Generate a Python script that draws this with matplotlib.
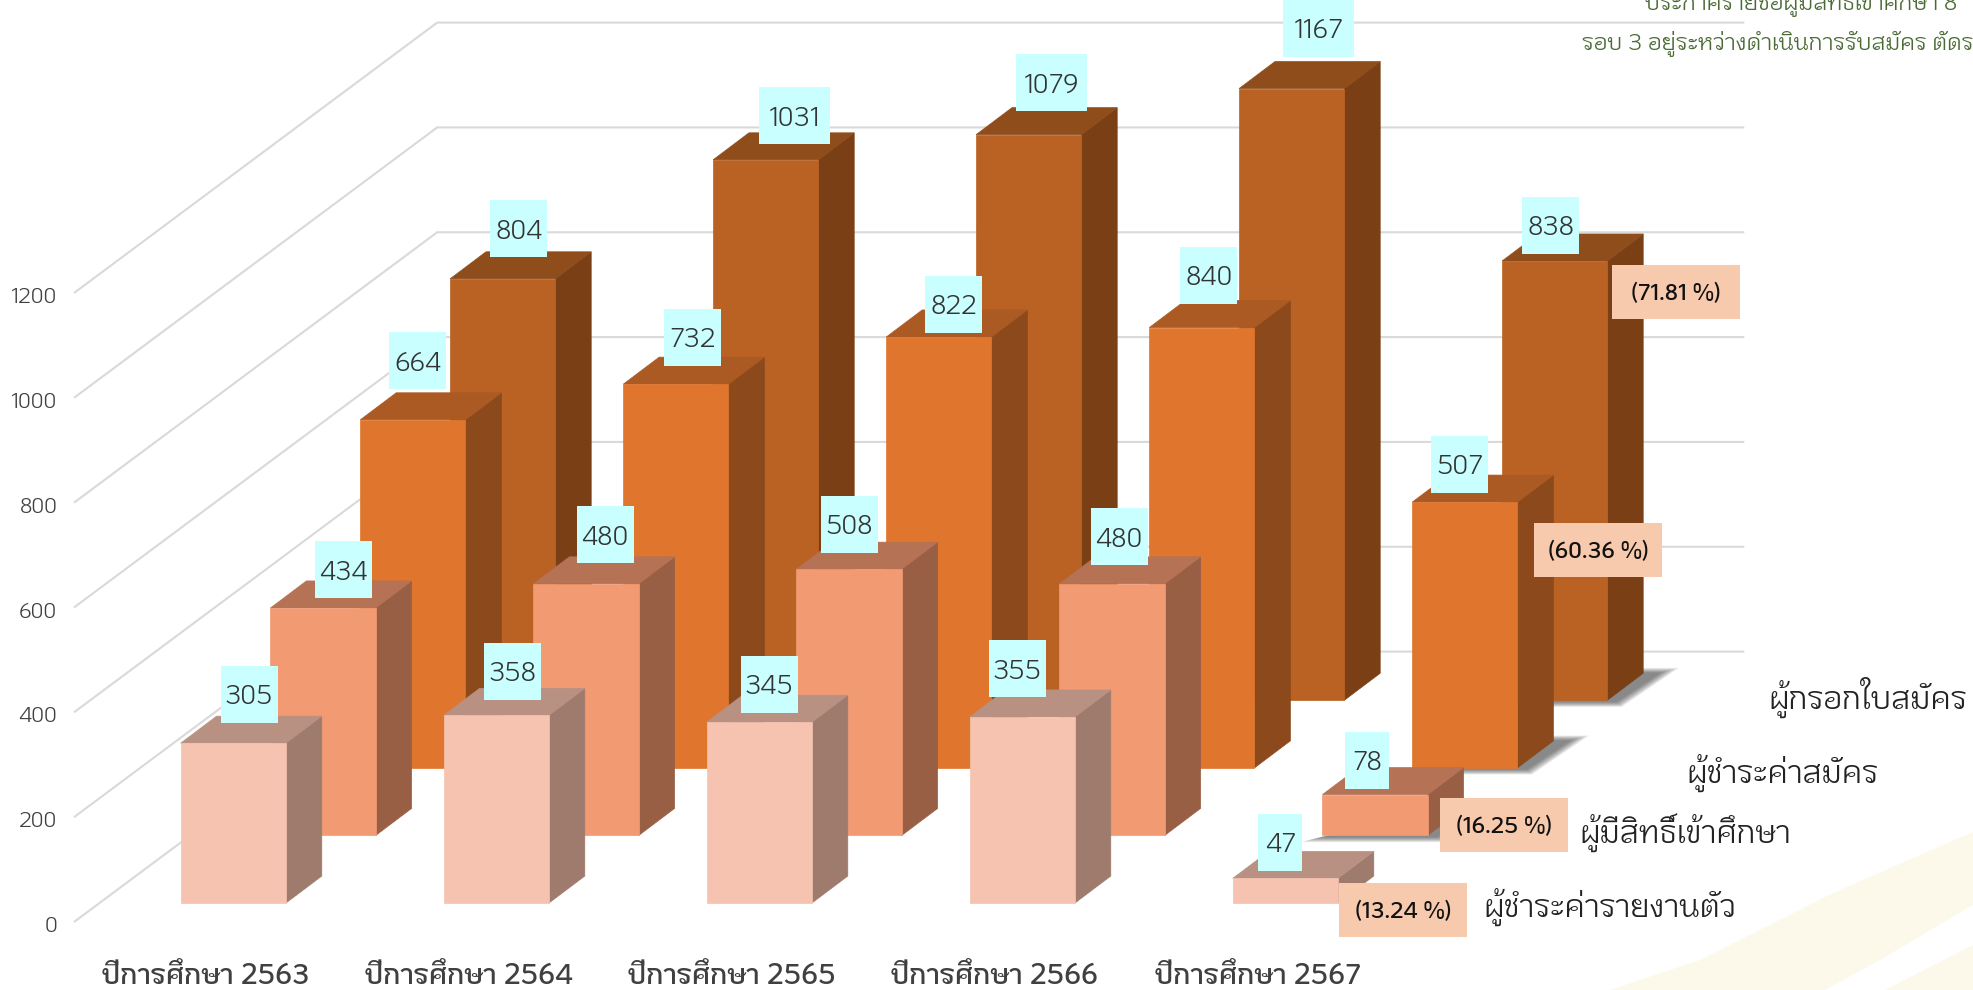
import matplotlib
matplotlib.use('Agg')
from matplotlib import pyplot as plt
from matplotlib.patches import Polygon, Rectangle
from matplotlib.transforms import ScaledTranslation

plt.rcParams['font.family'] = ['KoHo', 'Sarabun', 'Noto Sans Thai', 'DejaVu Sans']

# data
categories = ['ปีการศึกษา 2563', 'ปีการศึกษา 2564', 'ปีการศึกษา 2565', 'ปีการศึกษา 2566', 'ปีการศึกษา 2567']
series_names = ['ผู้ชำระค่ารายงานตัว', 'ผู้มีสิทธิ์เข้าศึกษา', 'ผู้ชำระค่าสมัคร', 'ผู้กรอกใบสมัคร']
paid_report = [305, 358, 345, 355, 47]
eligible = [434, 480, 508, 480, 78]
paid_apply = [664, 732, 822, 840, 507]
filled_form = [804, 1031, 1079, 1167, 838]
series_values = [paid_report, eligible, paid_apply, filled_form]
percents = ['(13.24 %)', '(16.25 %)', '(60.36 %)', '(71.81 %)']
y_ticks = [0, 200, 400, 600, 800, 1000, 1200]
title_lines = ['ประกาศรายชื่อผู้มีสิทธิเข้าศึกษา 8', 'รอบ 3 อยู่ระหว่างดำเนินการรับสมัคร ตัดร']

# colours front / side / top for each series
front_cols = ['#F5C3B0', '#F29B73', '#E0762D', '#BA6224']
side_cols = ['#9F7B6E', '#985F45', '#8C4A1C', '#7B3F15']
top_cols = ['#B99182', '#B57254', '#AB5A23', '#8F4D1C']

# layout, in image pixels
W, H = 1973, 990
AX_L, AX_B, CAT_PX = 74, 922, 263
PX_UNIT = 629 / 1200
DEPTH_X = 89.8 / CAT_PX       # one depth step in category units
DEPTH_Y = 67.6 / PX_UNIT      # one depth step in value units
BAR_X0, BAR_W = 0.31, 0.40
BAR_D0, BAR_D = 0.28, 0.40
WALL_SHIFT = 4 / CAT_PX

# offset of the value boxes from bar top (pixels, from top centre)
label_dx = [[16, 16, 10, -5, -5], [20, 19, 0, 7, -8], [5, 17, 15, 7, -5], [16, 29, 23, 27, -4]]
label_dy = [[49, 44, 38, 48, 36], [38, 49, 45, 47, 34], [59, 47, 33, 52, 38], [50, 44, 52, 60, 36]]

# percent boxes, centre in pixels
pct_x = [1403, 1504, 1598, 1676]
pct_y = [910, 825, 550, 292]
legend_x = [1483, 1579, 1686, 1768]
legend_y = [907, 833, 773, 697]


def proj(x, d, v):
	return (x + d * DEPTH_X, v + d * DEPTH_Y)


fig = plt.figure(figsize=(W / 100, H / 100), dpi=100, facecolor='white')
bg = fig.add_axes([0, 0, 1, 1], zorder=0)
bg.set_xlim(0, W)
bg.set_ylim(H, 0)
bg.axis('off')
# pale swoosh in the corner
bg.add_patch(Polygon([(1610, 990), (1700, 960), (1833, 893), (1973, 832), (1973, 905), (1880, 960), (1825, 990)], fc='#FCF8EA', ec='none'))
bg.add_patch(Polygon([(1885, 990), (1973, 945), (1973, 990)], fc='#FCF8EA', ec='none'))

ax = fig.add_axes([AX_L / W, (H - AX_B) / H, 5 * CAT_PX / W, 629 / H], zorder=1)
ax.patch.set_alpha(0)
ax.set_xlim(0, 5)
ax.set_ylim(0, 1200)
for s in ax.spines.values():
	s.set_visible(False)
ax.set_xticks([i + 0.5 for i in range(5)])
ax.set_xticklabels(categories, fontsize=20, fontweight='semibold', color='#404040')
ax.set_yticks(y_ticks)
ax.set_yticklabels(y_ticks, fontsize=15.5, color='#404040')
ax.tick_params(axis='both', length=0)
ax.tick_params(axis='x', pad=29)
ax.tick_params(axis='y', pad=12)
# y labels sit a little under their wall line
for lab in ax.get_yticklabels():
	lab.set_transform(lab.get_transform() + ScaledTranslation(0, -2.5 / 100, fig.dpi_scale_trans))

# wall grid lines
for v in y_ticks:
	a = proj(0, 0, v)
	b = proj(WALL_SHIFT, 4, v)
	c = proj(4.97 + WALL_SHIFT, 4, v)
	ax.plot([a[0], b[0], c[0]], [a[1], b[1], c[1]], color='#D9D9D9', lw=1.5, clip_on=False, zorder=1, solid_capstyle='butt')


def face(pts, col, z):
	ax.add_patch(Polygon(pts, fc=col, ec=col, lw=0.5, clip_on=False, zorder=z))


# bars, back series first
for k in range(3, -1, -1):
	z = 10 - k
	for i, v in enumerate(series_values[k]):
		x0 = i + BAR_X0
		x1 = x0 + BAR_W
		d0 = k + BAR_D0
		d1 = d0 + BAR_D
		if i == 4 and k > 0:
			# soft shadow on the floor
			for n in range(16):
				g = 1 - n / 16
				ex = 0.05 * g
				ed = 0.08 * g
				sh = [proj(x0 - ex, d0 - 0.02 - ed, 0), proj(x1 + 0.04 + ex, d0 - 0.02 - ed, 0),
					proj(x1 + 0.06 + ex, d1 + ed, 0), proj(x1 - 0.02, d1 + ed, 0)]
				ax.add_patch(Polygon(sh, fc='#3A3A3A', ec='none', alpha=0.05, clip_on=False, zorder=z))
		face([proj(x1, d0, 0), proj(x1, d1, 0), proj(x1, d1, v), proj(x1, d0, v)], side_cols[k], z)
		face([proj(x0, d0, v), proj(x1, d0, v), proj(x1, d1, v), proj(x0, d1, v)], top_cols[k], z)
		face([proj(x0, d0, 0), proj(x1, d0, 0), proj(x1, d0, v), proj(x0, d0, v)], front_cols[k], z)

# value boxes, wider for four digits and narrower for two
for k in range(4):
	for i, v in enumerate(series_values[k]):
		x = i + BAR_X0 + BAR_W / 2 + label_dx[k][i] / CAT_PX
		pos = proj(x, k + BAR_D0, v + label_dy[k][i] / PX_UNIT)
		bw = 71 if v >= 1000 else (57 if v >= 100 else 44)
		bx = bw / CAT_PX
		by = 57 / PX_UNIT
		ax.add_patch(Rectangle((pos[0] - bx / 2, pos[1] - by / 2), bx, by, fc='#C9FFFF', ec='none', clip_on=False, zorder=20))
		ax.text(pos[0], pos[1], str(v), fontsize=19, color='#333333', ha='center', va='center_baseline', clip_on=False, zorder=21)

# percent boxes and series names, placed on the image
for k in range(4):
	bg_x = pct_x[k]
	bg_y = pct_y[k]
	fig.patches.append(Rectangle(((bg_x - 64) / W, 1 - (bg_y + 27) / H), 128 / W, 54 / H, transform=fig.transFigure, fc='#F7C9AD', ec='none', zorder=30))
	fig.text(bg_x / W, 1 - bg_y / H, percents[k], fontsize=16, fontweight='semibold', color='#111111', ha='center', va='center_baseline', zorder=31)
	fig.text(legend_x[k] / W, 1 - legend_y[k] / H, series_names[k], fontsize=22.7, color='#222222', ha='left', va='center', zorder=31)

fig.text(1645 / W, 1 - 3 / H, title_lines[0], fontsize=16.6, color='#4A6B35', ha='left', va='center')
fig.text(1582 / W, 1 - 43 / H, title_lines[1], fontsize=16.6, color='#4A6B35', ha='left', va='center')

fig.savefig('out.png', dpi=100)
